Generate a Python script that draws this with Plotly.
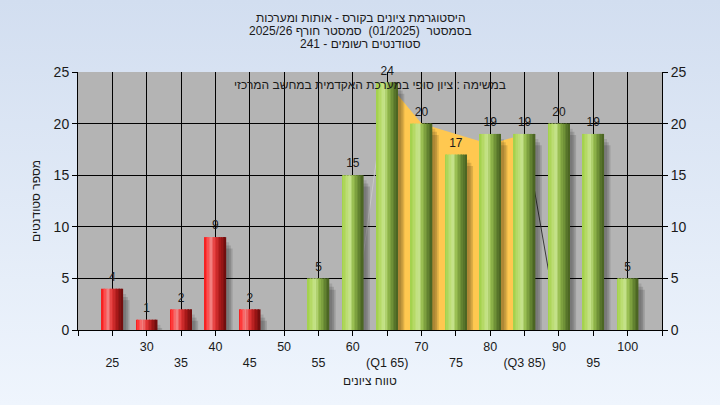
import base64
import plotly.graph_objects as go

# ---------------- data ----------------
CATEGORIES = [25, 30, 35, 40, 45, 50, 55, 60, 65, 70, 75, 80, 85, 90, 95, 100]
COUNTS = [4, 1, 2, 9, 2, 0, 5, 15, 24, 20, 17, 19, 19, 20, 19, 5]
TICK_LABELS = ["25", "30", "35", "40", "45", "50", "55", "60", "(Q1 65)",
               "70", "75", "80", "(Q3 85)", "90", "95", "100"]
PASS_GRADE = 55
CURVE_X = [60, 65, 70, 75, 80, 85, 90]
CURVE_Y = [0, 24, 20, 19, 18, 19, 0]
Q1, Q3 = 65, 85
TITLE_LINES = [
    "היסטוגרמת ציונים בקורס - אותות ומערכות",
    "בסמסטר  (01/2025)  סמסטר חורף 2025/26",
    "סטודנטים רשומים - 241",
]
NOTE = "במשימה : ציון סופי במערכת האקדמית במחשב המרכזי"
X_TITLE = "טווח ציונים"
Y_TITLE = "מספר סטודנטים"
Y_TICKS = [0, 5, 10, 15, 20, 25]
X_RANGE = [20, 105]
Y_RANGE = [0, 25]

# ---------------- geometry / style ----------------
W, H = 720, 405
ML, MR, MT, MB = 78, 58, 72, 75
PW, PH = W - ML - MR, H - MT - MB
FONT = "Liberation Sans, Arial, sans-serif"
TXT = "#1a1a1a"
BW = 3.1          # bar width in axis units
NSTRIP = 14

def px_x(px):
    return (px - ML) / PW

def px_y(py):
    return (H - MB - py) / PH

RED_STOPS = [(0.0, (240, 22, 22)), (0.1, (254, 55, 55)), (0.32, (242, 128, 128)),
             (0.5, (228, 55, 55)), (0.75, (168, 25, 25)), (1.0, (105, 12, 12))]
GREEN_STOPS = [(0.0, (160, 208, 72)), (0.15, (178, 216, 96)), (0.38, (200, 228, 142)),
               (0.55, (150, 188, 78)), (0.78, (105, 138, 52)), (1.0, (70, 95, 32))]

def grad(stops, t):
    for (t0, c0), (t1, c1) in zip(stops[:-1], stops[1:]):
        if t0 <= t <= t1:
            f = (t - t0) / (t1 - t0)
            c = [round(a + (b - a) * f) for a, b in zip(c0, c1)]
            return "rgb(%d,%d,%d)" % tuple(c)
    c = stops[-1][1]
    return "rgb(%d,%d,%d)" % c

fig = go.Figure()

# area curve (under the bars, left y axis)
i1, i3 = CURVE_X.index(Q1), CURVE_X.index(Q3)
fig.add_trace(go.Scatter(x=CURVE_X[i1:i3 + 1], y=CURVE_Y[i1:i3 + 1], mode="lines",
                         fill="tozeroy", fillcolor="#ffc850",
                         line=dict(width=0, color="#ffc850"), hoverinfo="skip",
                         showlegend=False))
fig.add_trace(go.Scatter(x=CURVE_X[:i1 + 1], y=CURVE_Y[:i1 + 1], mode="lines",
                         line=dict(width=1, color="#c8c8c8"), hoverinfo="skip",
                         showlegend=False))
fig.add_trace(go.Scatter(x=CURVE_X[i3:], y=CURVE_Y[i3:], mode="lines",
                         line=dict(width=1, color="#3a3a3a"), hoverinfo="skip",
                         showlegend=False))

# shadows
for shift, drop, alpha in [(0.45, 0.5, 0.10), (0.7, 0.8, 0.13), (0.95, 1.1, 0.13)]:
    fig.add_trace(go.Bar(x=CATEGORIES, y=COUNTS, base=-drop, width=BW,
                         offset=-BW / 2 + shift,
                         marker=dict(color="rgba(0,0,0,%g)" % alpha, line=dict(width=0)),
                         yaxis="y2", hoverinfo="skip", showlegend=False))

# cylinder bars as gradient strips
sw = BW / NSTRIP
for i in range(NSTRIP):
    t = (i + 0.5) / NSTRIP
    cols = [grad(RED_STOPS if c < PASS_GRADE else GREEN_STOPS, t) for c in CATEGORIES]
    fig.add_trace(go.Bar(x=CATEGORIES, y=COUNTS, width=sw * 1.08,
                         offset=-BW / 2 + i * sw,
                         marker=dict(color=cols, line=dict(width=0)),
                         yaxis="y2", hoverinfo="skip", showlegend=False))

# value labels (invisible marker pushes the text a little above the bar top)
fig.add_trace(go.Scatter(x=CATEGORIES, y=COUNTS, mode="markers+text",
                         marker=dict(size=6, color="rgba(0,0,0,0)"),
                         text=[str(v) if v else "" for v in COUNTS],
                         textposition="top center", cliponaxis=False,
                         textfont=dict(size=12, color=TXT, family=FONT),
                         yaxis="y2", hoverinfo="skip", showlegend=False))

# staggered tick labels
ticktext = [("<br>" + lab) if i % 2 == 0 else lab for i, lab in enumerate(TICK_LABELS)]

svg = ('<svg xmlns="http://www.w3.org/2000/svg" width="%d" height="%d">'
       '<defs><linearGradient id="g" x1="0" y1="0" x2="0" y2="1">'
       '<stop offset="0" stop-color="#d2def0"/><stop offset="1" stop-color="#eff5fd"/>'
       '</linearGradient></defs><rect width="%d" height="%d" fill="url(#g)"/></svg>'
       % (W, H, W, H))
bg_uri = "data:image/svg+xml;base64," + base64.b64encode(svg.encode()).decode()

annotations = []
for k, line in enumerate(TITLE_LINES):
    annotations.append(dict(text=line, x=px_x(360), y=px_y(18 + 13 * k), xref="paper",
                            yref="paper", showarrow=False, xanchor="center",
                            yanchor="middle", font=dict(size=12, color=TXT, family=FONT)))
annotations.append(dict(text=NOTE, x=0.5, y=px_y(85), xref="paper", yref="paper",
                        showarrow=False, xanchor="center", yanchor="middle",
                        font=dict(size=12, color=TXT, family=FONT)))
annotations.append(dict(text=X_TITLE, x=0.5, y=px_y(381), xref="paper", yref="paper",
                        showarrow=False, xanchor="center", yanchor="middle",
                        font=dict(size=12, color=TXT, family=FONT)))
annotations.append(dict(text=Y_TITLE, x=px_x(36), y=0.5, xref="paper", yref="paper",
                        showarrow=False, xanchor="center", yanchor="middle", textangle=-90,
                        font=dict(size=12, color=TXT, family=FONT)))

fig.update_layout(
    width=W, height=H,
    margin=dict(l=ML, r=MR, t=MT, b=MB, pad=0),
    paper_bgcolor="#e2ebf7",
    plot_bgcolor="rgba(0,0,0,0)",
    barmode="overlay",
    showlegend=False,
    hovermode=False,
    font=dict(family=FONT, color=TXT),
    images=[dict(source=bg_uri, xref="paper", yref="paper",
                 x=-ML / PW, y=1 + MT / PH, sizex=W / PW, sizey=H / PH,
                 sizing="stretch", xanchor="left", yanchor="top", layer="below")],
    shapes=[dict(type="rect", xref="paper", yref="paper", x0=0, x1=1, y0=0, y1=1,
                 fillcolor="#b4b4b4", line=dict(width=0), layer="below")],
    annotations=annotations,
    xaxis=dict(range=X_RANGE, tickmode="array",
               tickvals=[X_RANGE[0]] + CATEGORIES + [X_RANGE[1]],
               ticktext=[""] + ticktext + [""],
               showgrid=True, gridcolor="black", gridwidth=1,
               ticks="outside", ticklen=5, tickcolor="black",
               showline=True, linecolor="black", linewidth=1, zeroline=False,
               tickangle=0, tickfont=dict(size=12.5, color=TXT, family=FONT)),
    yaxis=dict(range=Y_RANGE, tickmode="array", tickvals=Y_TICKS,
               showgrid=True, gridcolor="black", gridwidth=1,
               ticks="outside", ticklen=5, tickcolor="black",
               showline=True, linecolor="black", linewidth=1, zeroline=False,
               tickfont=dict(size=14, color=TXT, family=FONT)),
    yaxis2=dict(range=Y_RANGE, overlaying="y", side="right", tickmode="array",
                tickvals=Y_TICKS, showgrid=False,
                ticks="outside", ticklen=5, tickcolor="black",
                showline=True, linecolor="black", linewidth=1, zeroline=False,
                tickfont=dict(size=14, color=TXT, family=FONT)),
)

fig.write_html("out.html", config={"displayModeBar": False},
               post_script="document.body.style.margin='0';document.body.style.padding='0';")
